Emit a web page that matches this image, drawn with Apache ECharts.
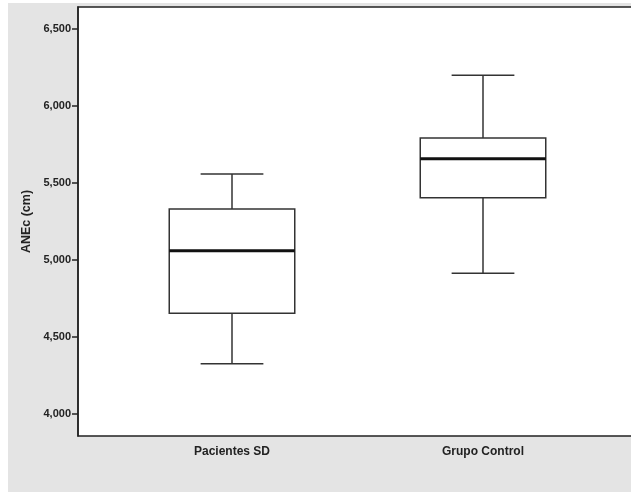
<!DOCTYPE html>
<html>
<head>
<meta charset="utf-8">
<script src="https://cdn.jsdelivr.net/npm/echarts@6/dist/echarts.min.js"></script>
<style>
html,body{margin:0;padding:0;background:#ffffff;width:631px;height:492px;overflow:hidden;position:relative;}
#chart{position:absolute;left:8px;top:3px;width:660px;height:489px;}
</style>
</head>
<body>
<div id="chart"></div>
<script>
// Data
const categories = ['Pacientes SD', 'Grupo Control'];
// [lower whisker, Q1, median, Q3, upper whisker]
const pacientesSD = [4327, 4654, 5060, 5331, 5558];
const grupoControl = [4914, 5405, 5658, 5792, 6199];
const yTicks = [4000, 4500, 5000, 5500, 6000, 6500];
const yName = 'ANEc (cm)';

const boxData = [pacientesSD, grupoControl].map((v, i) => [i].concat(v));

const yMin = 3857, yMax = 6643;
const ink = '#222';
const fmt = v => Math.round(v).toLocaleString('en-US');

const chart = echarts.init(document.getElementById('chart'), null, {renderer: 'canvas'});
chart.setOption({
  backgroundColor: '#e4e4e4',
  animation: false,
  grid: [
    {left: 70, right: 10, top: 4, bottom: 56, show: true, backgroundColor: '#ffffff', borderColor: ink, borderWidth: 1.5},
    {left: 98.5, width: 502, top: 4, bottom: 56}
  ],
  xAxis: [
    {type: 'category', gridIndex: 0, data: [''], show: false},
    {type: 'category', gridIndex: 1, data: categories, boundaryGap: true,
     axisLine: {show: false}, axisTick: {show: false}, splitLine: {show: false},
     axisLabel: {color: ink, fontFamily: 'Liberation Sans, Arial, sans-serif', fontWeight: 'bold', fontSize: 12, margin: 10}}
  ],
  yAxis: [
    {type: 'value', gridIndex: 0, min: yMin, max: yMax,
     name: yName, nameLocation: 'middle', nameGap: 43, nameRotate: 90,
     nameTextStyle: {color: ink, fontFamily: 'Liberation Sans, Arial, sans-serif', fontWeight: 'bold', fontSize: 12.5},
     axisLine: {show: true, lineStyle: {color: ink, width: 1.5}},
     axisTick: {show: true, inside: false, length: 6, lineStyle: {color: ink, width: 1.5}, customValues: yTicks},
     axisLabel: {color: ink, fontFamily: 'Liberation Sans, Arial, sans-serif', fontWeight: 'bold', fontSize: 11, margin: 7, customValues: yTicks, formatter: fmt},
     splitLine: {show: false}},
    {type: 'value', gridIndex: 1, min: yMin, max: yMax, show: false, splitLine: {show: false}}
  ],
  series: [{
    type: 'custom',
    xAxisIndex: 1, yAxisIndex: 1,
    encode: {x: 0, y: [1, 2, 3, 4, 5]},
    data: boxData,
    renderItem: function (params, api) {
      const x = api.value(0);
      const lo = api.coord([x, api.value(1)]);
      const q1 = api.coord([x, api.value(2)]);
      const md = api.coord([x, api.value(3)]);
      const q3 = api.coord([x, api.value(4)]);
      const hi = api.coord([x, api.value(5)]);
      const bw = api.size([1, 0])[0];
      const hb = bw * 0.25, hc = bw * 0.125;
      const cx = md[0];
      const st = {stroke: '#333', lineWidth: 1.5, fill: null};
      return {
        type: 'group',
        children: [
          {type: 'line', shape: {x1: cx, y1: hi[1], x2: cx, y2: q3[1]}, style: st},
          {type: 'line', shape: {x1: cx, y1: q1[1], x2: cx, y2: lo[1]}, style: st},
          {type: 'line', shape: {x1: cx - hc, y1: hi[1], x2: cx + hc, y2: hi[1]}, style: st},
          {type: 'line', shape: {x1: cx - hc, y1: lo[1], x2: cx + hc, y2: lo[1]}, style: st},
          {type: 'rect', shape: {x: cx - hb, y: q3[1], width: 2 * hb, height: q1[1] - q3[1]}, style: {stroke: '#333', lineWidth: 1.5, fill: 'rgba(255,255,255,0)'}},
          {type: 'line', shape: {x1: cx - hb, y1: md[1], x2: cx + hb, y2: md[1]}, style: {stroke: '#111', lineWidth: 3}}
        ]
      };
    }
  }]
});
</script>
</body>
</html>
